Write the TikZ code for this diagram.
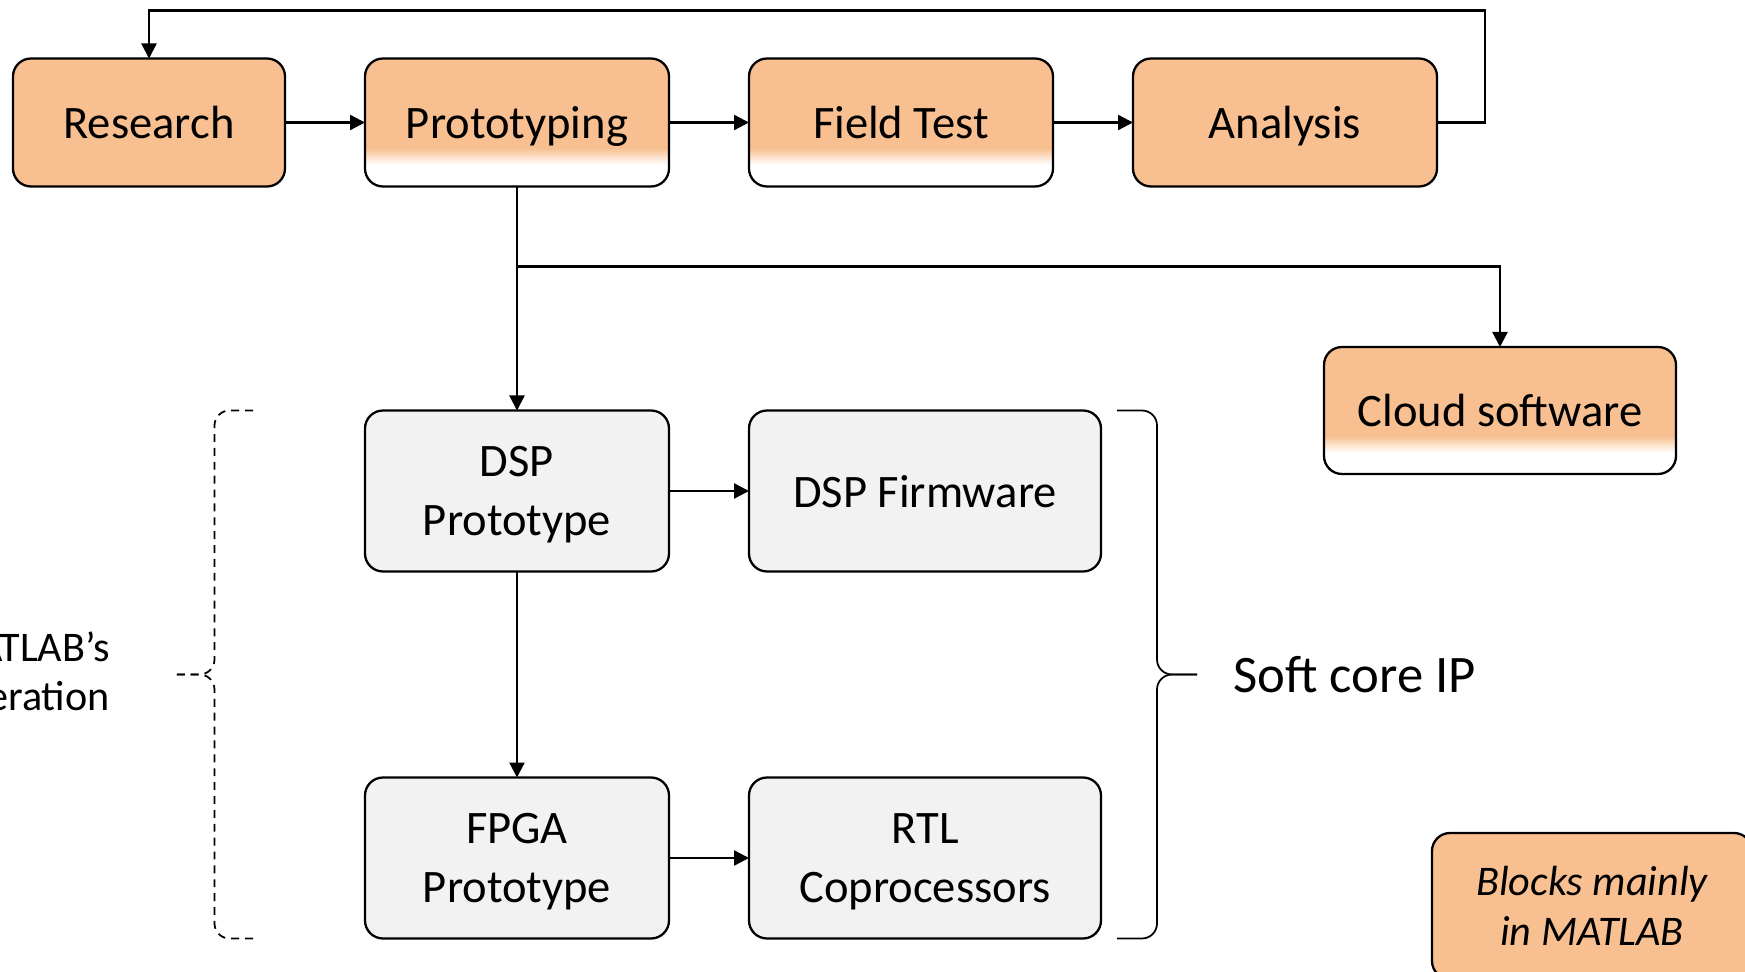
\documentclass[tikz,border=0pt]{standalone}
\usepackage{fontspec}
\setmainfont{Carlito}
\usepackage{xcolor}
\definecolor{boxorange}{RGB}{248,192,144}
\definecolor{boxgray}{RGB}{242,242,242}
\usetikzlibrary{positioning}
\usetikzlibrary{arrows.meta}
\usetikzlibrary{calc}
\pgfdeclareverticalshading{orangefade}{100bp}{color(0bp)=(white); color(33.5bp)=(white); color(40bp)=(boxorange); color(100bp)=(boxorange)}
\newcommand{\boxfont}{\fontsize{26.5}{33.5}\selectfont}
\newcommand{\largefont}{\fontsize{30}{36}\selectfont}
\newcommand{\notefont}{\fontsize{24}{28.5}\selectfont\itshape}
\newcommand{\sidefont}{\fontsize{24}{28}\selectfont}

\begin{document}
\begin{tikzpicture}[>={Triangle[length=0.3cm,width=0.3cm]},
  every node/.style={font=\boxfont},
  stage/.style={draw, line width=1.3pt, rounded corners=0.36cm, fill=boxorange, minimum width=6.08cm, minimum height=2.56cm, inner sep=0pt, outer sep=0pt, text depth=0pt},
  fadestage/.style={stage, shade, shading=orangefade},
  hwblock/.style={draw, line width=1.3pt, rounded corners=0.36cm, fill=boxgray, minimum width=6.08cm, minimum height=3.22cm, inner sep=0pt, outer sep=0pt, align=center, text depth=0pt},
  flow/.style={->, line width=1.3pt},
  brace/.style={line width=1pt, rounded corners=0.3cm}]
\path[use as bounding box] (0,0) rectangle (34.9,-19.44);
\clip (0,0) rectangle (34.9,-19.44);

% development loop
\node[stage, minimum width=5.44cm] (research) at (2.98,-2.45) {Research};
\node[fadestage] (proto) [right=1.6cm of research] {Prototyping};
\node[fadestage] (fieldtest) [right=1.6cm of proto] {Field Test};
\node[stage] (analysis) [right=1.6cm of fieldtest] {Analysis};
\node[fadestage, minimum width=7.04cm, minimum height=2.54cm] (cloud) at (30.0,-8.21) {Cloud software};

% hardware path
\node[hwblock] (dspproto) [below=4.48cm of proto] {DSP\\Prototype};
\node[hwblock, minimum width=7.04cm] (dspfw) [right=1.6cm of dspproto] {DSP Firmware};
\node[hwblock] (fpga) [below=4.12cm of dspproto] {FPGA\\Prototype};
\node[hwblock, minimum width=7.04cm] (rtl) [right=1.6cm of fpga] {RTL\\Coprocessors};

\node[stage, minimum width=6.4cm, minimum height=2.92cm, align=center, font=\notefont] (legend) at (31.84,-18.12) {Blocks mainly\\in MATLAB};

\draw[flow] (research) -- (proto);
\draw[flow] (proto) -- (fieldtest);
\draw[flow] (fieldtest) -- (analysis);
\coordinate (loop) at ([yshift=0.96cm]research.north);
\draw[flow] (analysis.east) -- ++(0.96,0) |- (loop) -- (research.north);
\draw[flow] (proto) -- (dspproto);
\coordinate (split) at ([yshift=-1.6cm]proto.south);
\draw[flow] (split) -| (cloud.north);
\draw[flow] (dspproto) -- (dspfw);
\draw[flow] (dspproto) -- (fpga);
\draw[flow] (fpga) -- (rtl);

% braces
\coordinate (rtop) at ([xshift=0.32cm]dspfw.north east);
\coordinate (rbot) at ([xshift=0.32cm]rtl.south east);
\coordinate (rtip) at ($(rtop)!0.5!(rbot)+(1.6,0)$);
\draw[brace] (rtop) -| ($(rtip)+(-0.8,0)$) -- (rtip);
\draw[brace] (rbot) -| ($(rtip)+(-0.8,0)$) -- (rtip);
\node[font=\largefont, inner sep=0pt] (softip) [right=0.72cm of rtip] {Soft core IP};

\coordinate (ltop) at ([xshift=-2.24cm]dspproto.north west);
\coordinate (lbot) at ([xshift=-2.24cm]fpga.south west);
\coordinate (ltip) at ($(ltop)!0.5!(lbot)+(-1.54,0)$);
\draw[brace, dash pattern=on 4.5pt off 3.4pt] (ltop) -| ($(ltip)+(0.77,0)$) -- (ltip);
\draw[brace, dash pattern=on 4.5pt off 3.4pt] (lbot) -| ($(ltip)+(0.77,0)$) -- (ltip);
\node[font=\sidefont, align=right, inner sep=0pt] (codegen) [left=1.32cm of ltip] {MATLAB’s\\generation};
\end{tikzpicture}
\end{document}
